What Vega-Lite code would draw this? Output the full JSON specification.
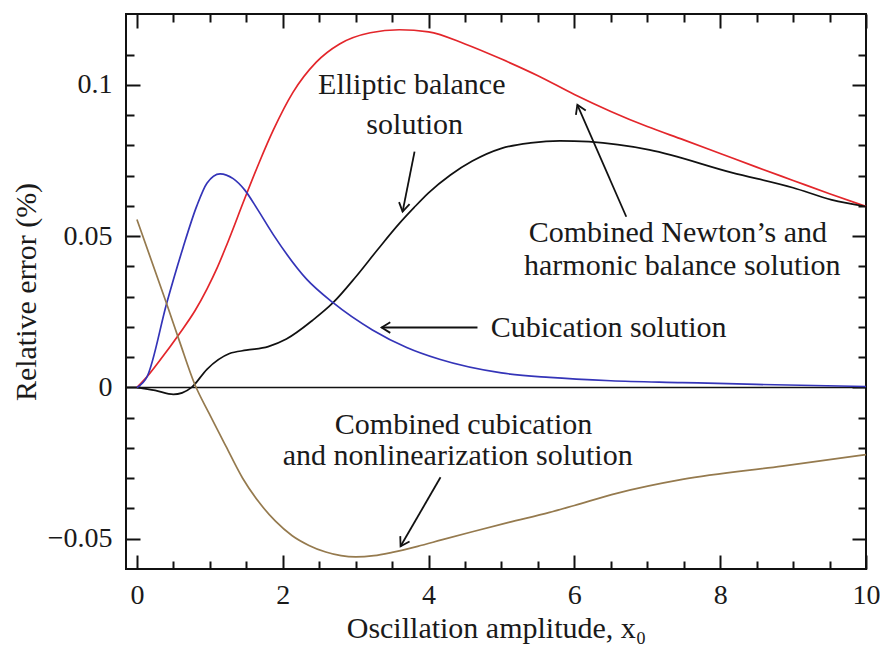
{
  "$schema": "https://vega.github.io/schema/vega-lite/v6.json",
  "width": 740,
  "height": 555,
  "autosize": "none",
  "padding": {"left": 126, "top": 14, "right": 14, "bottom": 82},
  "background": "white",
  "config": {
    "view": {"stroke": "#111111", "strokeWidth": 2},
    "axis": {
      "domain": false,
      "grid": false,
      "tickColor": "#111111",
      "tickWidth": 2,
      "labelFont": "Liberation Serif",
      "labelFontSize": 28,
      "labelColor": "#1a1a1a",
      "titleFont": "Liberation Serif",
      "titleFontSize": 30,
      "titleFontWeight": "normal",
      "titleColor": "#1a1a1a"
    },
    "text": {"font": "Liberation Serif", "fontSize": 30, "color": "#1a1a1a"}
  },
  "datasets": {
    "curves": [
      {"series": "Combined Newton-harmonic balance", "x": 0.0, "y": 0.0},
      {"series": "Combined Newton-harmonic balance", "x": 0.14, "y": 0.0036},
      {"series": "Combined Newton-harmonic balance", "x": 0.3, "y": 0.0085},
      {"series": "Combined Newton-harmonic balance", "x": 0.59, "y": 0.018},
      {"series": "Combined Newton-harmonic balance", "x": 0.8, "y": 0.0255},
      {"series": "Combined Newton-harmonic balance", "x": 0.96, "y": 0.0325},
      {"series": "Combined Newton-harmonic balance", "x": 1.1, "y": 0.0395},
      {"series": "Combined Newton-harmonic balance", "x": 1.23, "y": 0.047},
      {"series": "Combined Newton-harmonic balance", "x": 1.48, "y": 0.0625},
      {"series": "Combined Newton-harmonic balance", "x": 1.68, "y": 0.0745},
      {"series": "Combined Newton-harmonic balance", "x": 1.87, "y": 0.085},
      {"series": "Combined Newton-harmonic balance", "x": 2.14, "y": 0.0975},
      {"series": "Combined Newton-harmonic balance", "x": 2.46, "y": 0.1075},
      {"series": "Combined Newton-harmonic balance", "x": 2.78, "y": 0.1135},
      {"series": "Combined Newton-harmonic balance", "x": 3.2, "y": 0.1172},
      {"series": "Combined Newton-harmonic balance", "x": 3.6, "y": 0.1182},
      {"series": "Combined Newton-harmonic balance", "x": 4.0, "y": 0.1175},
      {"series": "Combined Newton-harmonic balance", "x": 4.5, "y": 0.1135},
      {"series": "Combined Newton-harmonic balance", "x": 5.0, "y": 0.1085},
      {"series": "Combined Newton-harmonic balance", "x": 5.5, "y": 0.103},
      {"series": "Combined Newton-harmonic balance", "x": 6.0, "y": 0.0968},
      {"series": "Combined Newton-harmonic balance", "x": 6.5, "y": 0.0912},
      {"series": "Combined Newton-harmonic balance", "x": 7.0, "y": 0.0862},
      {"series": "Combined Newton-harmonic balance", "x": 7.5, "y": 0.0818},
      {"series": "Combined Newton-harmonic balance", "x": 8.0, "y": 0.0773},
      {"series": "Combined Newton-harmonic balance", "x": 8.5, "y": 0.0728},
      {"series": "Combined Newton-harmonic balance", "x": 9.0, "y": 0.0684},
      {"series": "Combined Newton-harmonic balance", "x": 9.5, "y": 0.064},
      {"series": "Combined Newton-harmonic balance", "x": 10.0, "y": 0.0598},

      {"series": "Elliptic balance", "x": 0.0, "y": 0.0},
      {"series": "Elliptic balance", "x": 0.25, "y": -0.001},
      {"series": "Elliptic balance", "x": 0.5, "y": -0.0023},
      {"series": "Elliptic balance", "x": 0.62, "y": -0.0018},
      {"series": "Elliptic balance", "x": 0.75, "y": 0.0},
      {"series": "Elliptic balance", "x": 0.96, "y": 0.006},
      {"series": "Elliptic balance", "x": 1.27, "y": 0.0112},
      {"series": "Elliptic balance", "x": 1.5, "y": 0.0123},
      {"series": "Elliptic balance", "x": 1.8, "y": 0.0135},
      {"series": "Elliptic balance", "x": 2.05, "y": 0.016},
      {"series": "Elliptic balance", "x": 2.41, "y": 0.0222},
      {"series": "Elliptic balance", "x": 2.69, "y": 0.028},
      {"series": "Elliptic balance", "x": 3.0, "y": 0.0365},
      {"series": "Elliptic balance", "x": 3.3, "y": 0.0455},
      {"series": "Elliptic balance", "x": 3.6, "y": 0.0542},
      {"series": "Elliptic balance", "x": 3.8, "y": 0.0594},
      {"series": "Elliptic balance", "x": 4.0, "y": 0.0643},
      {"series": "Elliptic balance", "x": 4.3, "y": 0.0702},
      {"series": "Elliptic balance", "x": 4.6, "y": 0.0748},
      {"series": "Elliptic balance", "x": 5.0, "y": 0.079},
      {"series": "Elliptic balance", "x": 5.4, "y": 0.0808},
      {"series": "Elliptic balance", "x": 5.8, "y": 0.0815},
      {"series": "Elliptic balance", "x": 6.2, "y": 0.0812},
      {"series": "Elliptic balance", "x": 7.03, "y": 0.0785},
      {"series": "Elliptic balance", "x": 8.16, "y": 0.071},
      {"series": "Elliptic balance", "x": 9.0, "y": 0.066},
      {"series": "Elliptic balance", "x": 9.53, "y": 0.062},
      {"series": "Elliptic balance", "x": 10.0, "y": 0.0598},

      {"series": "Cubication", "x": 0.0, "y": 0.0},
      {"series": "Cubication", "x": 0.14, "y": 0.0036},
      {"series": "Cubication", "x": 0.41, "y": 0.028},
      {"series": "Cubication", "x": 0.63, "y": 0.046},
      {"series": "Cubication", "x": 0.82, "y": 0.0599},
      {"series": "Cubication", "x": 0.96, "y": 0.0675},
      {"series": "Cubication", "x": 1.14, "y": 0.0706},
      {"series": "Cubication", "x": 1.32, "y": 0.069},
      {"series": "Cubication", "x": 1.48, "y": 0.0652},
      {"series": "Cubication", "x": 1.65, "y": 0.059},
      {"series": "Cubication", "x": 1.87, "y": 0.0505},
      {"series": "Cubication", "x": 2.33, "y": 0.0357},
      {"series": "Cubication", "x": 2.69, "y": 0.028},
      {"series": "Cubication", "x": 3.23, "y": 0.019},
      {"series": "Cubication", "x": 3.7, "y": 0.0132},
      {"series": "Cubication", "x": 4.15, "y": 0.0093},
      {"series": "Cubication", "x": 5.0, "y": 0.0048},
      {"series": "Cubication", "x": 5.66, "y": 0.0033},
      {"series": "Cubication", "x": 6.5, "y": 0.0022},
      {"series": "Cubication", "x": 7.48, "y": 0.0016},
      {"series": "Cubication", "x": 8.5, "y": 0.001},
      {"series": "Cubication", "x": 10.0, "y": 0.0003},

      {"series": "Combined cubication-nonlinearization", "x": 0.0, "y": 0.0555},
      {"series": "Combined cubication-nonlinearization", "x": 0.41, "y": 0.0275},
      {"series": "Combined cubication-nonlinearization", "x": 0.59, "y": 0.0148},
      {"series": "Combined cubication-nonlinearization", "x": 0.79, "y": 0.0012},
      {"series": "Combined cubication-nonlinearization", "x": 0.99, "y": -0.0086},
      {"series": "Combined cubication-nonlinearization", "x": 1.22, "y": -0.0194},
      {"series": "Combined cubication-nonlinearization", "x": 1.45, "y": -0.03},
      {"series": "Combined cubication-nonlinearization", "x": 1.67, "y": -0.0378},
      {"series": "Combined cubication-nonlinearization", "x": 1.9, "y": -0.0442},
      {"series": "Combined cubication-nonlinearization", "x": 2.13, "y": -0.049},
      {"series": "Combined cubication-nonlinearization", "x": 2.36, "y": -0.0522},
      {"series": "Combined cubication-nonlinearization", "x": 2.59, "y": -0.0544},
      {"series": "Combined cubication-nonlinearization", "x": 2.8, "y": -0.0556},
      {"series": "Combined cubication-nonlinearization", "x": 3.0, "y": -0.056},
      {"series": "Combined cubication-nonlinearization", "x": 3.25, "y": -0.0556},
      {"series": "Combined cubication-nonlinearization", "x": 3.5, "y": -0.0545},
      {"series": "Combined cubication-nonlinearization", "x": 3.85, "y": -0.0525},
      {"series": "Combined cubication-nonlinearization", "x": 4.19, "y": -0.0503},
      {"series": "Combined cubication-nonlinearization", "x": 4.6, "y": -0.0477},
      {"series": "Combined cubication-nonlinearization", "x": 5.1, "y": -0.0446},
      {"series": "Combined cubication-nonlinearization", "x": 5.66, "y": -0.0413},
      {"series": "Combined cubication-nonlinearization", "x": 6.0, "y": -0.039},
      {"series": "Combined cubication-nonlinearization", "x": 6.58, "y": -0.035},
      {"series": "Combined cubication-nonlinearization", "x": 7.48, "y": -0.0304},
      {"series": "Combined cubication-nonlinearization", "x": 8.85, "y": -0.026},
      {"series": "Combined cubication-nonlinearization", "x": 10.0, "y": -0.0222}
    ],
    "labels": [
      {"label": "Elliptic balance", "x": 3.77, "y": 0.097},
      {"label": "solution", "x": 3.81, "y": 0.0838},
      {"label": "Combined Newton’s and", "x": 7.42, "y": 0.0479},
      {"label": "harmonic balance solution", "x": 7.48, "y": 0.0373},
      {"label": "Cubication solution", "x": 6.47, "y": 0.0168},
      {"label": "Combined cubication", "x": 4.48, "y": -0.0155},
      {"label": "and nonlinearization solution", "x": 4.4, "y": -0.0257}
    ],
    "arrows": [
      {"to": "Elliptic balance", "x": 3.808, "y": 0.0779, "x2": 3.644, "y2": 0.0581, "angle": 101.3},
      {"to": "Combined Newton-harmonic balance", "x": 6.712, "y": 0.0564, "x2": 6.041, "y2": 0.0934, "angle": 246.4},
      {"to": "Cubication", "x": 4.671, "y": 0.0198, "x2": 3.356, "y2": 0.0198, "angle": 180},
      {"to": "Combined cubication-nonlinearization", "x": 4.164, "y": -0.0297, "x2": 3.616, "y2": -0.0525, "angle": 120.1}
    ],
    "baseline": [{"y": 0}]
  },
  "resolve": {"axis": {"x": "independent", "y": "independent"}},
  "layer": [
    {
      "data": {"name": "baseline"},
      "mark": {"type": "rule", "color": "#111111", "strokeWidth": 1.6},
      "encoding": {
        "y": {"field": "y", "type": "quantitative", "scale": {"domain": [-0.06, 0.1234], "nice": false, "zero": false}, "axis": null}
      }
    },
    {
      "data": {"name": "curves"},
      "mark": {"type": "line", "interpolate": "monotone", "strokeWidth": 1.7},
      "encoding": {
        "x": {
          "field": "x", "type": "quantitative",
          "scale": {"domain": [-0.15, 10], "nice": false, "zero": false},
          "axis": {"orient": "bottom", "values": [0, 2, 4, 6, 8, 10], "tickSize": -14, "labelPadding": 26, "labelFlush": false, "title": "Oscillation amplitude, x₀", "titlePadding": 4}
        },
        "y": {
          "field": "y", "type": "quantitative",
          "scale": {"domain": [-0.06, 0.1234], "nice": false, "zero": false},
          "axis": {"orient": "left", "values": [-0.05, 0, 0.05, 0.1], "format": "~g", "tickSize": -14, "labelPadding": 28, "labelFlush": false, "title": "Relative error (%)", "titlePadding": 6}
        },
        "color": {
          "field": "series", "type": "nominal", "legend": null,
          "scale": {
            "domain": ["Combined Newton-harmonic balance", "Elliptic balance", "Cubication", "Combined cubication-nonlinearization"],
            "range": ["#e3262b", "#111111", "#3434b8", "#957a4e"]
          }
        }
      }
    },
    {
      "data": {"name": "labels"},
      "mark": {"type": "text", "align": "center", "baseline": "alphabetic"},
      "encoding": {
        "x": {
          "field": "x", "type": "quantitative",
          "scale": {"domain": [-0.15, 10], "nice": false, "zero": false},
          "axis": {"orient": "bottom", "values": [0.5, 1, 1.5, 2.5, 3, 3.5, 4.5, 5, 5.5, 6.5, 7, 7.5, 8.5, 9, 9.5], "tickSize": -8, "labels": false, "title": null}
        },
        "y": {
          "field": "y", "type": "quantitative",
          "scale": {"domain": [-0.06, 0.1234], "nice": false, "zero": false},
          "axis": {"orient": "left", "values": [-0.04, -0.03, -0.02, -0.01, 0.01, 0.02, 0.03, 0.04, 0.06, 0.07, 0.08, 0.09, 0.11], "tickSize": -8, "labels": false, "title": null}
        },
        "text": {"field": "label"}
      }
    },
    {
      "data": {"name": "arrows"},
      "mark": {"type": "rule", "color": "#111111", "strokeWidth": 1.8},
      "encoding": {
        "x": {
          "field": "x", "type": "quantitative",
          "scale": {"domain": [-0.15, 10], "nice": false, "zero": false},
          "axis": {"orient": "top", "values": [0, 2, 4, 6, 8, 10], "tickSize": -14, "labels": false, "title": null}
        },
        "y": {
          "field": "y", "type": "quantitative",
          "scale": {"domain": [-0.06, 0.1234], "nice": false, "zero": false},
          "axis": {"orient": "right", "values": [-0.05, 0, 0.05, 0.1], "tickSize": -14, "labels": false, "title": null}
        },
        "x2": {"field": "x2"},
        "y2": {"field": "y2"}
      }
    },
    {
      "data": {"name": "arrows"},
      "mark": {"type": "point", "shape": "M-1,-0.62L0,0L-1,0.62", "filled": false, "size": 300, "color": "#111111", "strokeWidth": 1.8, "opacity": 1},
      "encoding": {
        "x": {
          "field": "x2", "type": "quantitative",
          "scale": {"domain": [-0.15, 10], "nice": false, "zero": false},
          "axis": {"orient": "top", "values": [0.5, 1, 1.5, 2.5, 3, 3.5, 4.5, 5, 5.5, 6.5, 7, 7.5, 8.5, 9, 9.5], "tickSize": -8, "labels": false, "title": null}
        },
        "y": {
          "field": "y2", "type": "quantitative",
          "scale": {"domain": [-0.06, 0.1234], "nice": false, "zero": false},
          "axis": {"orient": "right", "values": [-0.04, -0.03, -0.02, -0.01, 0.01, 0.02, 0.03, 0.04, 0.06, 0.07, 0.08, 0.09, 0.11], "tickSize": -8, "labels": false, "title": null}
        },
        "angle": {"field": "angle", "type": "quantitative", "scale": null}
      }
    }
  ]
}
